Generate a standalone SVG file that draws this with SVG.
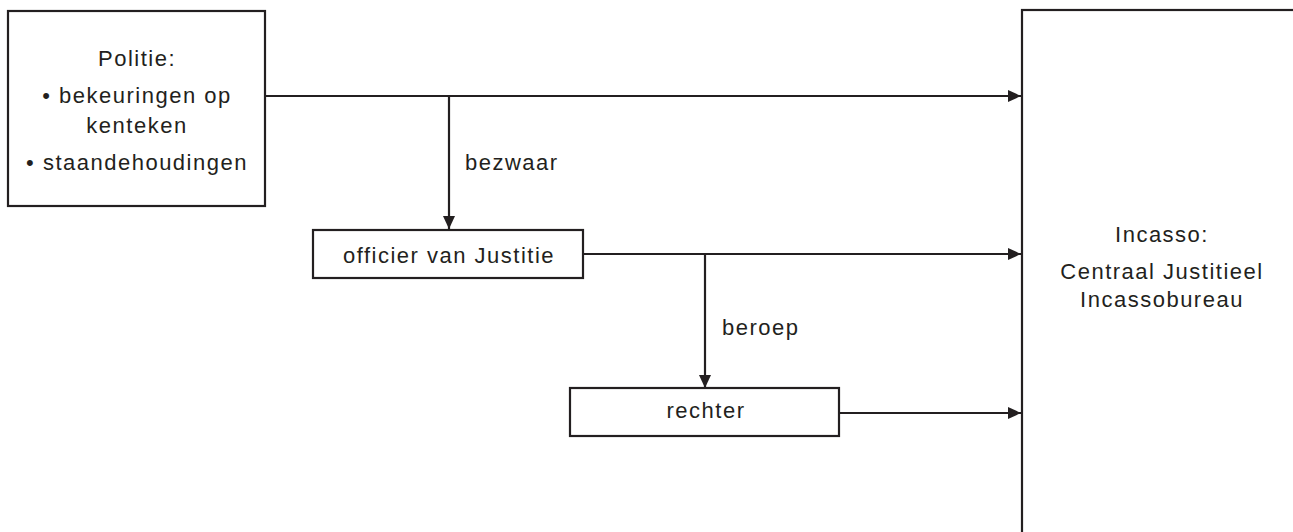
<svg xmlns="http://www.w3.org/2000/svg" width="1293" height="532" viewBox="0 0 1293 532">
<style>
.box{fill:#fff;stroke:#231f20;stroke-width:2.2}
.t{font-family:"Liberation Sans",Arial,sans-serif;font-size:22px;letter-spacing:1.5px;fill:#231f20;text-anchor:middle}
.l{font-family:"Liberation Sans",Arial,sans-serif;font-size:22px;letter-spacing:1.5px;fill:#231f20}
.c{fill:none;stroke:#231f20;stroke-width:2.2}
</style>
<defs>
<marker id="ah" markerWidth="13" markerHeight="12" refX="13" refY="6" orient="auto" markerUnits="userSpaceOnUse">
<path d="M0,0 L13,6 L0,12 Z" fill="#231f20"/>
</marker>
</defs>
<rect width="1293" height="532" fill="#fff"/>
<g id="connectors">
<path class="c" d="M265,96 H1021" marker-end="url(#ah)"/>
<path class="c" d="M449,96 V229" marker-end="url(#ah)"/>
<path class="c" d="M583,254 H1021" marker-end="url(#ah)"/>
<path class="c" d="M705,254 V388" marker-end="url(#ah)"/>
<path class="c" d="M839,413 H1021" marker-end="url(#ah)"/>
<text class="l" x="465" y="170">bezwaar</text>
<text class="l" x="722" y="335">beroep</text>
</g>
<g id="politie">
<rect class="box" x="8" y="11" width="257" height="195"/>
<text class="t" x="137" y="66">Politie:</text>
<text class="t" x="137" y="103">• bekeuringen op</text>
<text class="t" x="137" y="133">kenteken</text>
<text class="t" x="137" y="170">• staandehoudingen</text>
</g>
<g id="officier">
<rect class="box" x="313" y="230" width="270" height="48"/>
<text class="t" x="449" y="263">officier van Justitie</text>
</g>
<g id="rechter">
<rect class="box" x="570" y="388" width="269" height="48"/>
<text class="t" x="706" y="418">rechter</text>
</g>
<g id="incasso">
<rect class="box" x="1022" y="10" width="300" height="560"/>
<text class="t" x="1162" y="242">Incasso:</text>
<text class="t" x="1162" y="279">Centraal Justitieel</text>
<text class="t" x="1162" y="307">Incassobureau</text>
</g>
</svg>
